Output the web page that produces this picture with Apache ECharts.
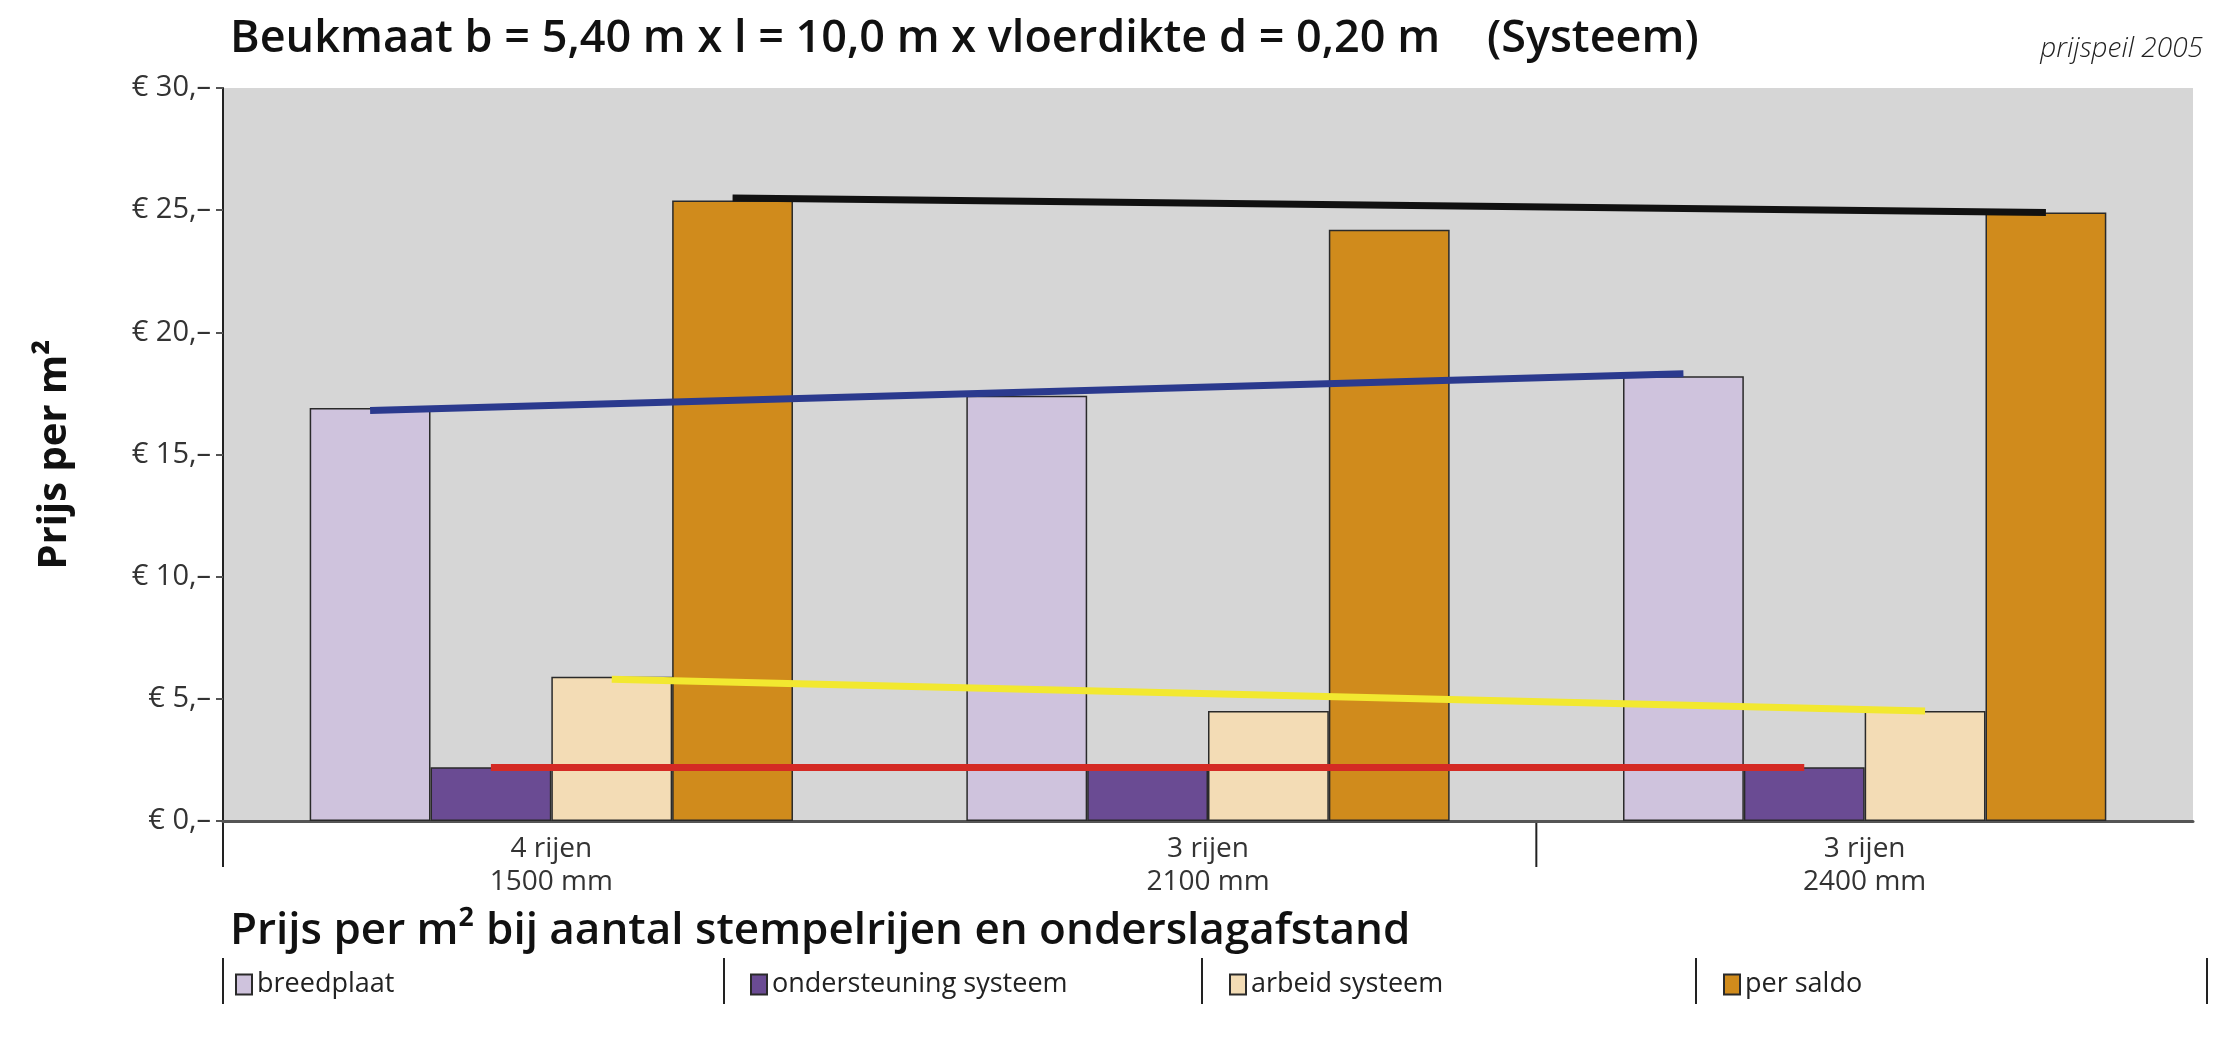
<!DOCTYPE html>
<html>
<head>
<meta charset="utf-8">
<script src="https://cdn.jsdelivr.net/npm/echarts@6/dist/echarts.min.js"></script>
<style>
html,body{margin:0;padding:0;background:#fff;}
#chart{width:2226px;height:1042px;}
</style>
</head>
<body>
<div id="chart"></div>
<script>
// ---- data ----
const categories = ['4 rijen\n1500 mm', '3 rijen\n2100 mm', '3 rijen\n2400 mm'];
const seriesNames = ['breedplaat', 'ondersteuning systeem', 'arbeid systeem', 'per saldo'];
const breedplaat = [16.9, 17.4, 18.2];
const ondersteuning = [2.2, 2.2, 2.2];
const arbeid = [5.9, 4.5, 4.5];
const perSaldo = [25.4, 24.2, 24.9];
const yTickLabels = ['€ 0,–', '€ 5,–', '€ 10,–', '€ 15,–', '€ 20,–', '€ 25,–', '€ 30,–'];
// trend lines: value at first and last group, per series
const trendBreedplaat = [16.8, 18.3];
const trendOndersteuning = [2.2, 2.2];
const trendArbeid = [5.8, 4.5];
const trendPerSaldo = [25.5, 24.9];

const barColors = ['#cfc3dd', '#6a4b93', '#f3dcb5', '#d08b1c'];
const lineColors = ['#2b3a8e', '#d42a24', '#f2e830', '#111111'];
const values = [breedplaat, ondersteuning, arbeid, perSaldo];
const trends = [trendBreedplaat, trendOndersteuning, trendArbeid, trendPerSaldo];

const FONT = '"Open Sans", "Noto Sans", sans-serif';

const chart = echarts.init(document.getElementById('chart'));

const series = seriesNames.map((name, k) => ({
  name: name,
  type: 'bar',
  data: values[k],
  barWidth: '18.4%',
  barGap: '0%',
  itemStyle: { color: barColors[k], borderColor: '#2a2a2a', borderWidth: 1.5 },
  markLine: {
    silent: true,
    symbol: 'none',
    label: { show: false },
    lineStyle: { color: lineColors[k], width: 7, type: 'solid' },
    data: [[
      { coord: [categories[0], trends[k][0]] },
      { coord: [categories[2], trends[k][1]] }
    ]]
  }
}));

const legendLefts = [230, 745, 1224, 1718];
const legends = seriesNames.map((name, k) => ({
  data: [name],
  left: legendLefts[k],
  top: 966,
  itemWidth: 16,
  itemHeight: 20,
  itemGap: 6,
  icon: 'rect',
  textStyle: { fontFamily: FONT, fontSize: 27, color: '#222' },
  selectedMode: false
}));

const dividerXs = [223, 724, 1202, 1696, 2207];

chart.setOption({
  animation: false,
  backgroundColor: '#ffffff',
  title: [
    {
      text: 'Beukmaat b = 5,40 m x l = 10,0 m x vloerdikte d = 0,20 m    (Systeem)',
      left: 225, top: 12,
      textStyle: { fontFamily: FONT, fontSize: 45, fontWeight: 600, color: '#111' }
    },
    {
      text: 'prijspeil 2005',
      right: 18, top: 30,
      textStyle: { fontFamily: FONT, fontSize: 28, fontWeight: 300, fontStyle: 'italic', color: '#222' }
    },
    {
      text: 'Prijs per m² bij aantal stempelrijen en onderslagafstand',
      left: 225, top: 904,
      textStyle: { fontFamily: FONT, fontSize: 44, fontWeight: 600, color: '#111' }
    }
  ],
  legend: legends,
  grid: {
    left: 223, right: 33, top: 88, bottom: 221,
    show: true, backgroundColor: '#d6d6d6', borderWidth: 0
  },
  xAxis: {
    type: 'category',
    data: categories,
    axisLine: { lineStyle: { color: '#555', width: 3 } },
    axisTick: { show: false },
    axisLabel: {
      fontFamily: FONT, fontSize: 28, color: '#333', lineHeight: 33, margin: 12,
      interval: 0
    },
    splitLine: { show: false }
  },
  yAxis: {
    type: 'value',
    min: 0, max: 30, interval: 5,
    name: 'Prijs per m²',
    nameLocation: 'middle',
    nameGap: 148,
    nameTextStyle: { fontFamily: FONT, fontSize: 40, fontWeight: 'bold', color: '#111' },
    axisLine: { show: true, lineStyle: { color: '#222', width: 2 } },
    axisTick: { show: true, length: 7, lineStyle: { color: '#555', width: 2 } },
    axisLabel: {
      fontFamily: FONT, fontSize: 29, color: '#333', margin: 12,
      formatter: (v) => yTickLabels[Math.round(v / 5)]
    },
    splitLine: { show: false }
  },
  series: series
});

// decorative axis ticks below the x axis (from the axis scale) and legend dividers
const c0 = chart.convertToPixel({ xAxisIndex: 0 }, 0);
const c1 = chart.convertToPixel({ xAxisIndex: 0 }, 1);
const band = c1 - c0;
const y0 = chart.convertToPixel({ yAxisIndex: 0 }, 0);
const tickXs = [c0 - band / 2, c1 + band / 2];
const graphics = tickXs.map(x => ({
  type: 'line',
  shape: { x1: x, y1: y0, x2: x, y2: y0 + 46 },
  style: { stroke: '#222', lineWidth: 2 }
})).concat(dividerXs.map(x => ({
  type: 'line',
  shape: { x1: x, y1: 958, x2: x, y2: 1004 },
  style: { stroke: '#222', lineWidth: 2 }
})));
chart.setOption({ graphic: graphics });
</script>
</body>
</html>
